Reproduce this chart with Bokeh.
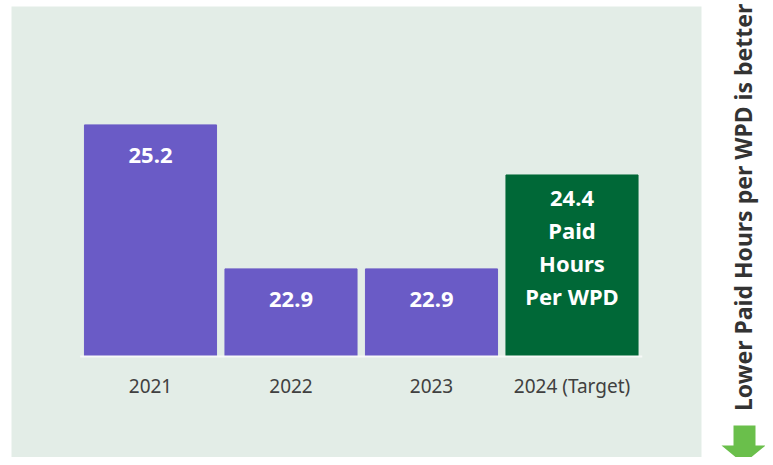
import math
from bokeh.plotting import figure
from bokeh.models import Range1d, BoxAnnotation, Label, PolyAnnotation, ColumnDataSource
from bokeh.core.properties import value
from bokeh.embed import file_html
from bokeh.resources import INLINE

# ---- data ----
categories = ["2021", "2022", "2023", "2024 (Target)"]
values = [25.2, 22.9, 22.9, 24.4]
bar_labels = ["25.2", "22.9", "22.9", "24.4\nPaid\nHours\nPer WPD"]
is_target = [False, False, False, True]
baseline = 21.5
side_note = "Lower Paid Hours per WPD is better"

PURPLE = "#6A5BC6"
GREEN = "#006837"
PANEL = "#E3EDE7"
ARROW = "#6ABF4B"
FONT = "Noto Sans"

xs = list(range(len(categories)))
colors = [GREEN if t else PURPLE for t in is_target]

p = figure(width=765, height=457, output_backend="svg", toolbar_location=None,
           x_range=Range1d(-1.0676, 4.3772), y_range=Range1d(19.887, 27.187),
           min_border=0, min_border_left=0, min_border_right=0,
           min_border_top=0, min_border_bottom=0)
p.axis.visible = False
p.grid.visible = False
p.outline_line_color = None
p.background_fill_color = "white"
p.border_fill_color = "white"

# panel background
p.add_layout(BoxAnnotation(left=-0.9893, right=3.9217, top=27.091,
                           fill_color=PANEL, fill_alpha=1.0,
                           line_color=None, level="underlay"))

src = ColumnDataSource(dict(x=xs, top=values, color=colors, cat=categories,
                            lab=bar_labels))
p.vbar(x="x", top="top", bottom=baseline, width=0.94, color="color", source=src)

# baseline
p.segment(x0=[xs[0] - 0.5], x1=[xs[-1] + 0.5], y0=[baseline], y1=[baseline],
          line_color="#F7F9F8", line_width=2)

# value labels
purple_src = ColumnDataSource(dict(x=[x for x, t in zip(xs, is_target) if not t],
                                   y=[v for v, t in zip(values, is_target) if not t],
                                   t=[l for l, t in zip(bar_labels, is_target) if not t]))
p.text(x="x", y="y", text="t", source=purple_src, text_color="white",
       text_font=value(FONT), text_font_style="bold", text_font_size="22px",
       text_align="center", text_baseline="middle", y_offset=31)

green_src = ColumnDataSource(dict(x=[x for x, t in zip(xs, is_target) if t],
                                  y=[v for v, t in zip(values, is_target) if t],
                                  t=[l for l, t in zip(bar_labels, is_target) if t]))
p.text(x="x", y="y", text="t", source=green_src, text_color="white",
       text_font=value(FONT), text_font_style="bold", text_font_size="22px",
       text_align="center", text_baseline="top", y_offset=7, text_line_height=1.1)

# category labels
p.text(x="x", y=baseline, text="cat", source=src, text_color="#404040",
       text_font=value(FONT), text_font_size="19px",
       text_align="center", text_baseline="middle", y_offset=29)

# side note
p.add_layout(Label(x=4.2135, y=20.63, text=side_note, angle=math.pi / 2,
                   text_font=FONT, text_font_style="bold", text_font_size="23px",
                   text_color="#333333", text_align="left", text_baseline="middle"))

# green arrow (data units)
p.add_layout(PolyAnnotation(
    xs=[4.1495, 4.306, 4.306, 4.377, 4.2206, 4.064, 4.1495, 4.1495],
    ys=[20.398, 20.398, 20.078, 20.078, 19.79, 20.078, 20.078, 20.398],
    fill_color=ARROW, fill_alpha=1.0, line_color=None))

open("out.html", "w").write(file_html(p, INLINE))
